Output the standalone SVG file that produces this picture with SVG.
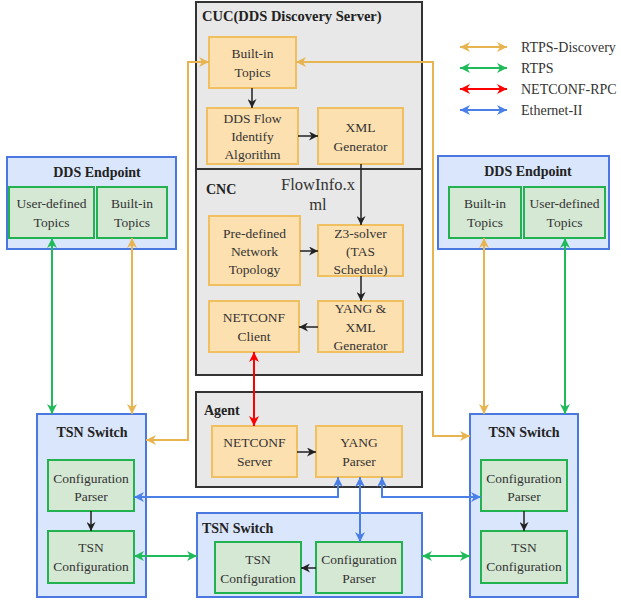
<svg xmlns="http://www.w3.org/2000/svg" width="621" height="600" viewBox="0 0 621 600" font-family="Liberation Serif, serif">
<style>
.t{font-family:'Liberation Serif',serif;font-size:13.5px;text-anchor:middle;fill:#333;}
.b{font-family:'Liberation Serif',serif;font-size:14px;font-weight:bold;fill:#222;}
.bc{font-family:'Liberation Serif',serif;font-size:14px;font-weight:bold;fill:#222;text-anchor:middle;}
.lg{font-family:'Liberation Serif',serif;font-size:14px;fill:#333;}
.fi{font-family:'Liberation Serif',serif;font-size:16.5px;fill:#333;text-anchor:middle;}
.gray{fill:#e8e8e8;stroke:#333;stroke-width:2;}
.blu{fill:#dae6fc;stroke:#4a78e0;stroke-width:2;}
.org{fill:#fde0b0;stroke:#f0c060;stroke-width:2;}
.grn{fill:#d5e8d4;stroke:#22b350;stroke-width:2;}
.k{stroke:#222;stroke-width:1.5;fill:none;}
.o{stroke:#e8b450;stroke-width:2;fill:none;}
.g{stroke:#1fba5a;stroke-width:2;fill:none;}
.r{stroke:#ff0000;stroke-width:2;fill:none;}
.bl{stroke:#4a7fe8;stroke-width:2;fill:none;}
</style>
<defs>
<marker id="ak" viewBox="0 0 10 10" refX="10" refY="5" markerWidth="9" markerHeight="9" markerUnits="userSpaceOnUse" orient="auto-start-reverse"><path d="M0,0 L10,5 L0,10 L3,5 z" fill="#222"/></marker>
<marker id="ao" viewBox="0 0 10 10" refX="10" refY="5" markerWidth="10" markerHeight="10" markerUnits="userSpaceOnUse" orient="auto-start-reverse"><path d="M0,0 L10,5 L0,10 L3,5 z" fill="#e8b450"/></marker>
<marker id="ag" viewBox="0 0 10 10" refX="10" refY="5" markerWidth="10" markerHeight="10" markerUnits="userSpaceOnUse" orient="auto-start-reverse"><path d="M0,0 L10,5 L0,10 L3,5 z" fill="#1fba5a"/></marker>
<marker id="ar" viewBox="0 0 10 10" refX="10" refY="5" markerWidth="10" markerHeight="10" markerUnits="userSpaceOnUse" orient="auto-start-reverse"><path d="M0,0 L10,5 L0,10 L3,5 z" fill="#ff0000"/></marker>
<marker id="ab" viewBox="0 0 10 10" refX="10" refY="5" markerWidth="10" markerHeight="10" markerUnits="userSpaceOnUse" orient="auto-start-reverse"><path d="M0,0 L10,5 L0,10 L3,5 z" fill="#4a7fe8"/></marker>
</defs>

<!-- containers -->
<g id="cuc"><rect class="gray" x="196" y="2" width="226" height="167"/><text class="b" x="202" y="21" style="font-size:14.5px">CUC(DDS Discovery Server)</text></g>
<g id="cnc"><rect class="gray" x="196" y="169" width="226" height="206"/><text class="b" x="206" y="194">CNC</text></g>
<g id="agent"><rect class="gray" x="196" y="392" width="226" height="95"/><text class="b" x="204" y="415">Agent</text></g>
<g id="tsn-bottom"><rect class="blu" x="197" y="513" width="225" height="84"/><text class="b" x="202" y="533">TSN Switch</text></g>
<g id="tsn-left"><rect class="blu" x="37" y="414" width="109" height="183"/><text class="bc" x="92" y="437">TSN Switch</text></g>
<g id="tsn-right"><rect class="blu" x="470" y="414" width="108" height="183"/><text class="bc" x="524" y="437">TSN Switch</text></g>
<g id="dds-left"><rect class="blu" x="7" y="157" width="169" height="92"/><text class="bc" x="97" y="177">DDS Endpoint</text></g>
<g id="dds-right"><rect class="blu" x="438" y="156" width="171" height="93"/><text class="bc" x="528" y="176">DDS Endpoint</text></g>

<!-- CUC nodes -->
<g id="cuc-builtin"><rect class="org" x="209" y="37" width="87" height="51"/><text class="t" x="252.5" y="58">Built-in</text><text class="t" x="252.5" y="77">Topics</text></g>
<g id="flow-identify"><rect class="org" x="207" y="108" width="91" height="56"/><text class="t" x="252.5" y="123">DDS Flow</text><text class="t" x="252.5" y="141">Identify</text><text class="t" x="252.5" y="159">Algorithm</text></g>
<g id="xml-gen"><rect class="org" x="318" y="108" width="85" height="56"/><text class="t" x="360.5" y="132">XML</text><text class="t" x="360.5" y="151">Generator</text></g>

<!-- CNC nodes -->
<g id="topology"><rect class="org" x="209" y="216" width="91" height="69"/><text class="t" x="254.5" y="238">Pre-defined</text><text class="t" x="254.5" y="256">Network</text><text class="t" x="254.5" y="274">Topology</text></g>
<g id="z3"><rect class="org" x="318" y="225" width="85" height="51"/><text class="t" x="360.5" y="238">Z3-solver</text><text class="t" x="360.5" y="256">(TAS</text><text class="t" x="360.5" y="274">Schedule)</text></g>
<g id="yang-xml"><rect class="org" x="318" y="301" width="85" height="51"/><text class="t" x="360.5" y="313">YANG &amp;</text><text class="t" x="360.5" y="332">XML</text><text class="t" x="360.5" y="350">Generator</text></g>
<g id="netconf-client"><rect class="org" x="209" y="301" width="90" height="51"/><text class="t" x="254" y="322">NETCONF</text><text class="t" x="254" y="341">Client</text></g>

<!-- Agent nodes -->
<g id="netconf-server"><rect class="org" x="212" y="426" width="85" height="51"/><text class="t" x="254.5" y="447">NETCONF</text><text class="t" x="254.5" y="466">Server</text></g>
<g id="yang-parser"><rect class="org" x="316" y="426" width="86" height="51"/><text class="t" x="359" y="447">YANG</text><text class="t" x="359" y="466">Parser</text></g>

<!-- bottom switch nodes -->
<g id="b-tsncfg"><rect class="grn" x="215" y="542" width="86" height="51"/><text class="t" x="258" y="564">TSN</text><text class="t" x="258" y="583">Configuration</text></g>
<g id="b-parser"><rect class="grn" x="316" y="542" width="86" height="51"/><text class="t" x="359" y="564">Configuration</text><text class="t" x="359" y="583">Parser</text></g>

<!-- left switch nodes -->
<g id="l-parser"><rect class="grn" x="48" y="460" width="86" height="51"/><text class="t" x="91" y="483">Configuration</text><text class="t" x="91" y="501">Parser</text></g>
<g id="l-tsncfg"><rect class="grn" x="48" y="531" width="86" height="52"/><text class="t" x="91" y="552">TSN</text><text class="t" x="91" y="571">Configuration</text></g>

<!-- right switch nodes -->
<g id="r-parser"><rect class="grn" x="481" y="460" width="86" height="51"/><text class="t" x="524" y="483">Configuration</text><text class="t" x="524" y="501">Parser</text></g>
<g id="r-tsncfg"><rect class="grn" x="481" y="531" width="86" height="52"/><text class="t" x="524" y="552">TSN</text><text class="t" x="524" y="571">Configuration</text></g>

<!-- DDS endpoint nodes -->
<g id="l-user"><rect class="grn" x="9" y="187" width="85" height="51"/><text class="t" x="51.5" y="208">User-defined</text><text class="t" x="51.5" y="227">Topics</text></g>
<g id="l-builtin"><rect class="grn" x="97" y="187" width="70" height="51"/><text class="t" x="132" y="208">Built-in</text><text class="t" x="132" y="227">Topics</text></g>
<g id="r-builtin"><rect class="grn" x="449" y="187" width="72" height="51"/><text class="t" x="485" y="208">Built-in</text><text class="t" x="485" y="227">Topics</text></g>
<g id="r-user"><rect class="grn" x="524" y="187" width="81" height="51"/><text class="t" x="564.5" y="208">User-defined</text><text class="t" x="564.5" y="227">Topics</text></g>

<!-- legend -->
<g id="legend">
<line class="o" x1="460" y1="47" x2="507" y2="47" marker-start="url(#ao)" marker-end="url(#ao)"/>
<line class="g" x1="460" y1="68" x2="507" y2="68" marker-start="url(#ag)" marker-end="url(#ag)"/>
<line class="r" x1="460" y1="89" x2="507" y2="89" marker-start="url(#ar)" marker-end="url(#ar)"/>
<line class="bl" x1="460" y1="110" x2="507" y2="110" marker-start="url(#ab)" marker-end="url(#ab)"/>
<text class="lg" x="521" y="52">RTPS-Discovery</text>
<text class="lg" x="521" y="73">RTPS</text>
<text class="lg" x="521" y="94">NETCONF-RPC</text>
<text class="lg" x="521" y="115">Ethernet-II</text>
</g>

<!-- connectors -->
<g id="connectors">
<line class="k" x1="252" y1="88" x2="252" y2="108" marker-end="url(#ak)"/>
<line class="k" x1="298" y1="136" x2="318" y2="136" marker-end="url(#ak)"/>
<line class="k" x1="361" y1="164" x2="361" y2="225" marker-end="url(#ak)"/>
<text class="fi" x="318" y="190">FlowInfo.x</text>
<text class="fi" x="318" y="210">ml</text>
<line class="k" x1="300" y1="251" x2="318" y2="251" marker-end="url(#ak)"/>
<line class="k" x1="361" y1="276" x2="361" y2="301" marker-end="url(#ak)"/>
<line class="k" x1="318" y1="327" x2="299" y2="327" marker-end="url(#ak)"/>
<line class="k" x1="297" y1="452" x2="316" y2="452" marker-end="url(#ak)"/>
<line class="k" x1="316" y1="568" x2="301" y2="568" marker-end="url(#ak)"/>
<line class="k" x1="91" y1="511" x2="91" y2="531" marker-end="url(#ak)"/>
<line class="k" x1="524" y1="511" x2="524" y2="531" marker-end="url(#ak)"/>

<line class="r" x1="254" y1="352" x2="254" y2="426" marker-start="url(#ar)" marker-end="url(#ar)"/>

<polyline class="o" points="209,62 188,62 188,440 146,440" marker-start="url(#ao)" marker-end="url(#ao)"/>
<polyline class="o" points="296,62 433,62 433,436 470,436" marker-start="url(#ao)" marker-end="url(#ao)"/>
<line class="o" x1="132" y1="238" x2="132" y2="414" marker-start="url(#ao)" marker-end="url(#ao)"/>
<line class="o" x1="484" y1="238" x2="484" y2="414" marker-start="url(#ao)" marker-end="url(#ao)"/>

<line class="g" x1="52" y1="238" x2="52" y2="414" marker-start="url(#ag)" marker-end="url(#ag)"/>
<line class="g" x1="565" y1="238" x2="565" y2="414" marker-start="url(#ag)" marker-end="url(#ag)"/>
<line class="g" x1="134" y1="556" x2="197" y2="556" marker-start="url(#ag)" marker-end="url(#ag)"/>
<line class="g" x1="422" y1="556" x2="470" y2="556" marker-start="url(#ag)" marker-end="url(#ag)"/>

<polyline class="bl" points="338,477 338,497 134,497" marker-start="url(#ab)" marker-end="url(#ab)"/>
<line class="bl" x1="360" y1="477" x2="360" y2="542" marker-start="url(#ab)" marker-end="url(#ab)"/>
<polyline class="bl" points="382,477 382,497 481,497" marker-start="url(#ab)" marker-end="url(#ab)"/>
</g>
</svg>
